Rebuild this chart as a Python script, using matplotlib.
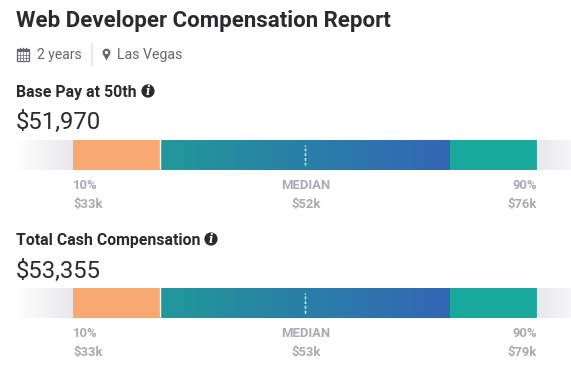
import numpy as np
import matplotlib
matplotlib.use("Agg")
import matplotlib.pyplot as plt
from matplotlib.colors import LinearSegmentedColormap
from matplotlib.patches import Circle, Rectangle, Polygon, Wedge

plt.rcParams['font.family'] = ['Roboto', 'DejaVu Sans']

# percentile positions along the bar
pct_edges = [10, 25, 50, 75, 90]
pct_labels = ["10%", "MEDIAN", "90%"]

title = "Web Developer Compensation Report"
experience = "2 years"
location = "Las Vegas"

section_names = ["Base Pay at 50th", "Total Cash Compensation"]
section_values = ["$51,970", "$53,355"]
low_labels = ["$33k", "$33k"]
mid_labels = ["$52k", "$53k"]
high_labels = ["$76k", "$79k"]

W, H = 571, 372
DARK = "#2b2b2e"
GREY = "#a9a9b2"
META = "#66666f"
PCT_LEFT, PCT_RIGHT = 0.17, 95.9  # percentile at left/right edge of the bar axes

fig = plt.figure(figsize=(W / 100, H / 100), dpi=100)
bg = fig.add_axes([0, 0, 1, 1])
bg.set_xlim(0, W)
bg.set_ylim(H, 0)
bg.axis("off")

grad_left = LinearSegmentedColormap.from_list("gl", ["#ffffff", "#e8e8ec"])
grad_right = LinearSegmentedColormap.from_list("gr", ["#e8e8ec", "#f6f6f8"])
grad_mid = LinearSegmentedColormap.from_list("gm", ["#21989a", "#3366b6"])


def draw_info(x, y):
    bg.add_patch(Circle((x, y), 6.6, color=DARK, lw=0))
    bg.text(x, y + 0.3, "i", color="white", fontsize=8.5, fontweight="bold", style="italic",
            ha="center", va="center", family="DejaVu Serif")


def draw_bar(top):
    ax = fig.add_axes([16 / W, 1 - (top + 30) / H, (W - 16) / W, 30 / H])
    ax.set_xlim(PCT_LEFT, PCT_RIGHT)
    ax.set_ylim(0, 1)
    ax.axis("off")
    p10, p25, p50, p75, p90 = pct_edges
    grad = np.linspace(0, 1, 200).reshape(1, -1)
    ax.imshow(grad, extent=(PCT_LEFT, p10, 0, 1), cmap=grad_left, aspect="auto")
    ax.imshow(grad, extent=(p90, PCT_RIGHT, 0, 1), cmap=grad_right, aspect="auto")
    ax.imshow(grad, extent=(p25, p75, 0, 1), cmap=grad_mid, aspect="auto")
    ax.add_patch(Rectangle((p10, 0), p25 - p10, 1, color="#f7a873", lw=0))
    ax.add_patch(Rectangle((p75, 0), p90 - p75, 1, color="#19a99d", lw=0))
    ax.plot([p25, p25], [0, 1], color="#f4f4f4", lw=1)
    ax.plot([p90, p90], [0, 1], color="#f4f4f4", lw=0.8)
    ax.plot([p50, p50], [0.17, 0.85], color="white", lw=1, dashes=(2, 1.4))
    ax.set_xlim(PCT_LEFT, PCT_RIGHT)
    return ax


bg.text(16, 21, title, color=DARK, fontsize=16.0, fontweight="bold", va="center", ha="left")

# calendar icon
bg.add_patch(Rectangle((17, 49), 12, 11.5, fill=False, ec=META, lw=0.9))
bg.add_patch(Rectangle((17, 49), 12, 3, color=META, lw=0))
for gx in [20, 23, 26]:
    bg.plot([gx, gx], [52, 60.5], color=META, lw=0.5)
    bg.plot([gx - 0.5, gx - 0.5], [47.5, 50], color=META, lw=0.9)
for gy in [55, 58]:
    bg.plot([17, 29], [gy, gy], color=META, lw=0.5)
bg.text(37, 55, experience, color=META, fontsize=10.0, va="center", ha="left")
bg.plot([92, 92], [44, 65], color="#e6e6e9", lw=1.2)

# pin icon
bg.add_patch(Wedge((106.5, 52.5), 3.9, 0, 360, width=2.3, color=META, lw=0))
bg.add_patch(Polygon([[102.8, 53.8], [110.2, 53.8], [106.5, 60.5]], color=META, lw=0))
bg.add_patch(Circle((106.5, 52.5), 1.5, color="white", lw=0))
bg.text(117, 55, location, color=META, fontsize=10.2, va="center", ha="left")

name_y = [92, 240]
value_y = [122, 271]
bar_top = [140, 288]
info_x = [148, 211]
p_x = [73, 306, 537]

for i in range(2):
    bg.text(16, name_y[i], section_names[i], color=DARK, fontsize=11.4, fontweight="bold",
            va="center", ha="left")
    draw_info(info_x[i], name_y[i] - 1)
    bg.text(16, value_y[i], section_values[i], color=DARK, fontsize=17.2, va="center", ha="left")
    draw_bar(bar_top[i])
    rows = [low_labels[i], mid_labels[i], high_labels[i]]
    aligns = ["left", "center", "right"]
    for j in range(3):
        bg.text(p_x[j], bar_top[i] + 45.5, pct_labels[j], color=GREY, fontsize=9.4, fontweight="bold",
                ha=aligns[j], va="center")
        bg.text(p_x[j], bar_top[i] + 64.5, rows[j], color=GREY, fontsize=9.4, fontweight="bold",
                ha=aligns[j], va="center")

fig.savefig("out.png", dpi=100)
